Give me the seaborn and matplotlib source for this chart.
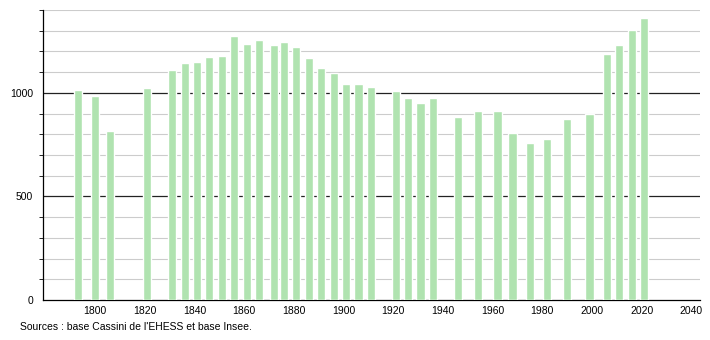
import matplotlib
matplotlib.use("Agg")
import matplotlib.pyplot as plt
import seaborn as sns
import pandas as pd
from matplotlib.ticker import MultipleLocator

years = [1793, 1800, 1806, 1821, 1831, 1836, 1841, 1846, 1851, 1856, 1861, 1866,
         1872, 1876, 1881, 1886, 1891, 1896, 1901, 1906, 1911, 1921, 1926, 1931,
         1936, 1946, 1954, 1962, 1968, 1975, 1982, 1990, 1999, 2006, 2011, 2016, 2021]
population = [1013, 984, 814, 1023, 1110, 1143, 1148, 1172, 1179, 1275, 1238, 1254,
              1230, 1245, 1219, 1166, 1122, 1094, 1042, 1045, 1026, 1008, 974, 949,
              974, 883, 912, 912, 804, 759, 777, 873, 896, 1187, 1230, 1302, 1359]
source_text = "Sources : base Cassini de l'EHESS et base Insee."

sns.set_style("white")
plt.rcParams['font.family'] = ['Liberation Sans', 'DejaVu Sans']
plt.rcParams['text.color'] = 'black'
plt.rcParams['xtick.color'] = 'black'
plt.rcParams['ytick.color'] = 'black'
plt.rcParams['xtick.labelcolor'] = 'black'
plt.rcParams['ytick.labelcolor'] = 'black'

df = pd.DataFrame({"year": years, "pop": population})

fig = plt.figure(figsize=(7.1, 3.4), dpi=100)
ax = fig.add_axes([43/710, 1 - 300/340, (700-43)/710, (300-10)/340])

sns.barplot(data=df, x="year", y="pop", native_scale=True, width=0.82,
            color="#b0e3b0", saturation=1, ax=ax, zorder=3)

ax.set_xlim(1779, 2043.5)
ax.set_ylim(0, 1400)

for v in range(100, 1401, 100):
    if v in (500, 1000):
        ax.axhline(v, color="#222222", lw=0.9, zorder=1)
    else:
        ax.axhline(v, color="#cccccc", lw=0.8, zorder=1)

ax.set_xticks(range(1800, 2041, 20))
ax.set_yticks([0, 500, 1000])
ax.yaxis.set_minor_locator(MultipleLocator(100))
ax.tick_params(axis='y', which='major', length=5, width=0.8, color='black', labelsize=7.5, pad=2)
ax.tick_params(axis='y', which='minor', length=3, width=0.6, color='black', left=True)
ax.tick_params(axis='x', length=0, labelsize=7.5, pad=4)
ax.set_xlabel("")
ax.set_ylabel("")

for s in ["top", "right"]:
    ax.spines[s].set_visible(False)
ax.spines["left"].set_color("black")
ax.spines["bottom"].set_color("black")
ax.spines["left"].set_linewidth(0.9)
ax.spines["bottom"].set_linewidth(0.9)

fig.text(20/710, 1 - 327/340, source_text, fontsize=7.5, ha="left", va="center", color="black")

fig.savefig("out.png", dpi=100)
